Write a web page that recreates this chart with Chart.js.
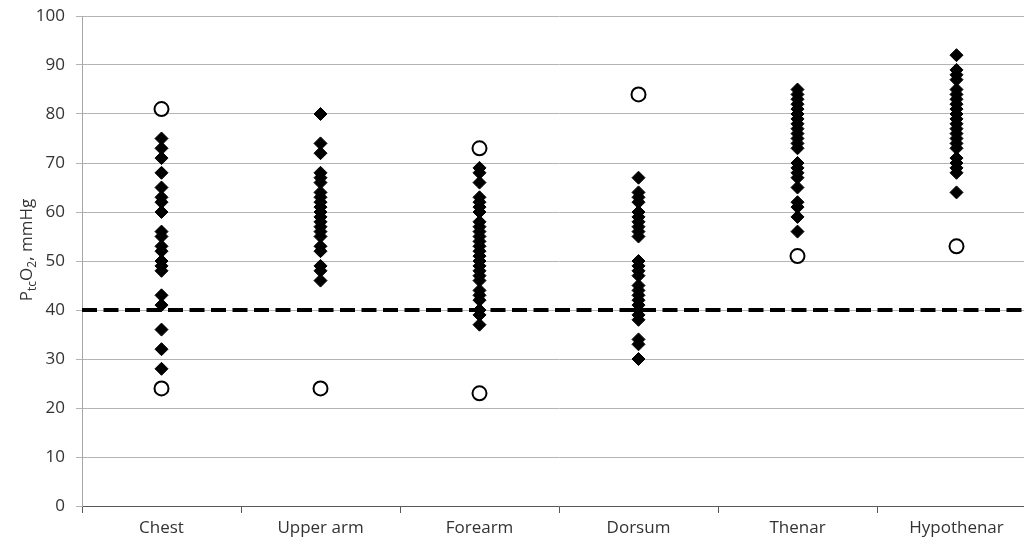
<!DOCTYPE html>
<html>
<head>
<meta charset="utf-8">
<script src="https://cdn.jsdelivr.net/npm/chart.js@4"></script>
<style>
html,body{margin:0;padding:0;background:#fff;overflow:hidden;width:1024px;height:545px;}
#wrap{position:absolute;left:0;top:0;width:1045px;height:545px;}
</style>
</head>
<body>
<div id="wrap"><canvas id="c" width="1045" height="545"></canvas></div>
<script>
// ---- data ----
const categories = ["Chest", "Upper arm", "Forearm", "Dorsum", "Thenar", "Hypothenar"];
const chestValues = [75, 73, 71, 68, 65, 63, 62, 60, 56, 55, 53, 52, 50, 49, 48, 43, 41, 36, 32, 28];
const upperArmValues = [80, 74, 72, 68, 67, 66, 64, 63, 62, 61, 60, 59, 58, 57, 56, 55, 53, 52, 49, 48, 46];
const forearmValues = [69, 68, 66, 63, 62, 61, 60, 58, 57, 56, 55, 54, 53, 52, 51, 50, 49, 48, 47, 46, 44, 43, 42, 40, 39, 37];
const dorsumValues = [67, 64, 63, 62, 60, 59, 58, 57, 56, 55, 50, 49, 48, 47, 45, 44, 43, 42, 41, 40, 39, 38, 34, 33, 30];
const thenarValues = [85, 84, 83, 82, 81, 80, 79, 78, 77, 76, 75, 74, 73, 70, 69, 68, 67, 65, 62, 61, 59, 56];
const hypothenarValues = [92, 89, 88, 87, 85, 84, 83, 82, 81, 80, 79, 78, 77, 76, 75, 74, 73, 71, 70, 69, 68, 64];
const outlierCategories = ["Chest", "Chest", "Upper arm", "Forearm", "Forearm", "Dorsum", "Thenar", "Hypothenar"];
const outlierValues = [81, 24, 24, 73, 23, 84, 51, 53];
const thresholdValue = 40;
const yTickValues = [0, 10, 20, 30, 40, 50, 60, 70, 80, 90, 100];

const seriesByCategory = [chestValues, upperArmValues, forearmValues, dorsumValues, thenarValues, hypothenarValues];
const diamondPoints = [];
seriesByCategory.forEach((vals, i) => vals.forEach(v => diamondPoints.push({x: categories[i], y: v})));
const circlePoints = outlierValues.map((v, i) => ({x: outlierCategories[i], y: v}));

const textColor = '#333333';
const fontFamily = "'Open Sans', sans-serif";

const extras = {
  id: 'extras',
  beforeDatasetsDraw(chart) {
    const ctx = chart.ctx, area = chart.chartArea, ys = chart.scales.y;
    const py = ys.getPixelForValue(thresholdValue);
    ctx.save();
    ctx.strokeStyle = '#000';
    ctx.lineWidth = 4;
    ctx.setLineDash([15, 6.5]);
    ctx.beginPath();
    ctx.moveTo(area.left, py);
    ctx.lineTo(area.right, py);
    ctx.stroke();
    ctx.restore();
  },
  afterDraw(chart) {
    const ctx = chart.ctx;
    const parts = [
      {t: 'P', size: 17, dy: 0},
      {t: 'tc', size: 12, dy: 4},
      {t: 'O', size: 17, dy: 0},
      {t: '2', size: 12, dy: 4},
      {t: ', mmHg', size: 17, dy: 0}
    ];
    ctx.save();
    let total = 0;
    parts.forEach(p => { ctx.font = p.size + "px " + fontFamily; p.w = ctx.measureText(p.t).width; total += p.w; });
    ctx.translate(32, 250);
    ctx.rotate(-Math.PI / 2);
    ctx.fillStyle = textColor;
    ctx.textBaseline = 'alphabetic';
    ctx.textAlign = 'left';
    let x = -total / 2;
    parts.forEach(p => { ctx.font = p.size + "px " + fontFamily; ctx.fillText(p.t, x, p.dy); x += p.w; });
    ctx.restore();
  }
};

new Chart(document.getElementById('c'), {
  type: 'scatter',
  data: {
    datasets: [
      {
        label: 'Measurements',
        data: diamondPoints,
        pointStyle: 'rectRot',
        pointRadius: 6.5,
        pointHoverRadius: 6.5,
        backgroundColor: '#000',
        borderColor: '#000',
        borderWidth: 1
      },
      {
        label: 'Outliers',
        data: circlePoints,
        pointStyle: 'circle',
        pointRadius: 7,
        pointHoverRadius: 7,
        backgroundColor: '#fff',
        borderColor: '#000',
        borderWidth: 2
      }
    ]
  },
  options: {
    responsive: false,
    animation: false,
    events: [],
    layout: {padding: {top: 16, left: 0, right: 0, bottom: 0}},
    plugins: {legend: {display: false}, tooltip: {enabled: false}},
    scales: {
      x: {
        type: 'category',
        labels: categories,
        offset: true,
        grid: {offset: true, drawOnChartArea: false, drawTicks: true, tickLength: 7, color: '#595959'},
        border: {color: '#595959', width: 1},
        ticks: {color: textColor, font: {family: fontFamily, size: 17}, padding: 5, maxRotation: 0, autoSkip: false},
        afterFit(scale) { scale.height = 39; scale.paddingLeft = 0; scale.paddingRight = 0; }
      },
      y: {
        min: 0,
        max: 100,
        afterBuildTicks(scale) { scale.ticks = yTickValues.map(v => ({value: v})); },
        grid: {color: '#b4b4b4', lineWidth: 1, tickLength: 6, drawTicks: true},
        border: {color: '#a6a6a6', width: 1},
        ticks: {color: textColor, font: {family: fontFamily, size: 17}, padding: 11},
        afterFit(scale) { scale.width = 82; scale.paddingTop = 0; scale.paddingBottom = 0; }
      }
    }
  },
  plugins: [extras]
});
</script>
</body>
</html>
